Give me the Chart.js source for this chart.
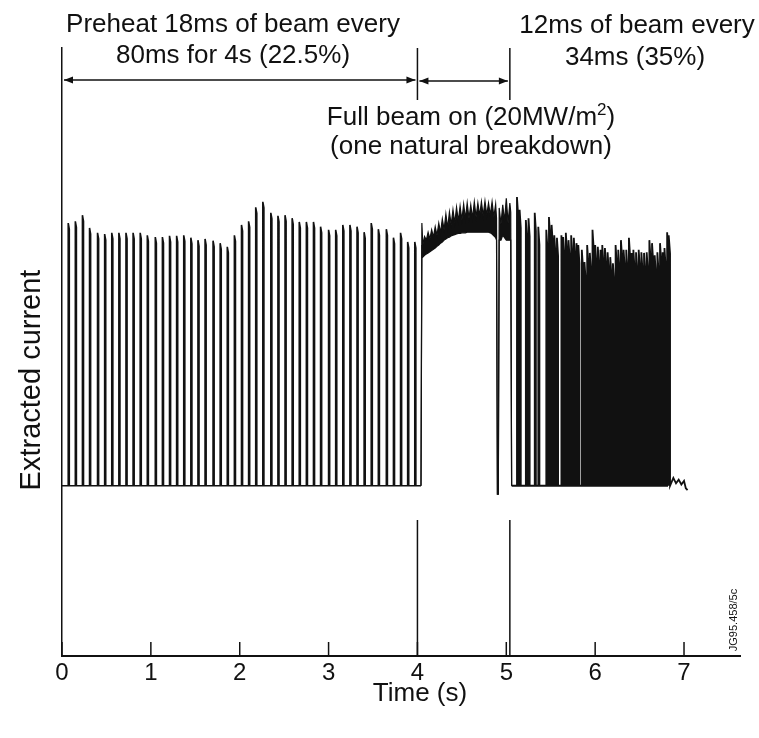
<!DOCTYPE html>
<html>
<head>
<meta charset="utf-8">
<title>Extracted current vs time</title>
<script src="https://cdn.jsdelivr.net/npm/chart.js@4/dist/chart.umd.min.js"></script>
<style>
  html, body { margin: 0; padding: 0; background: #fff; }
  #wrap { position: relative; width: 759px; height: 738px; }
</style>
</head>
<body>
<div id="wrap"><canvas id="chart" width="759" height="738"></canvas></div>
<script>
/* Extracted current trace: preheat pulses, full beam, then 34 ms pulsing */

// --- data (arbitrary current units, 0..100) ---
var xTicks = [0, 1, 2, 3, 4, 5, 6, 7];
var xTickLabels = ['0', '1', '2', '3', '4', '5', '6', '7'];

var BASE = 28.0;                 // baseline level between pulses

// preheat: 18 ms of beam every 80 ms
var preheatTimes = [0.07, 0.15, 0.23, 0.31, 0.40, 0.48, 0.56, 0.64, 0.72, 0.80,
  0.88, 0.96, 1.05, 1.13, 1.21, 1.29, 1.37, 1.45, 1.53, 1.61,
  1.70, 1.78, 1.86, 1.94, 2.02, 2.10, 2.18, 2.26, 2.35, 2.43,
  2.51, 2.59, 2.67, 2.75, 2.83, 2.91, 3.00, 3.08, 3.16, 3.24,
  3.32, 3.40, 3.48, 3.56, 3.65, 3.73, 3.81, 3.89, 3.97];
var preheatPeaks = [71.2, 71.5, 72.5, 70.4, 69.6, 69.4, 69.6, 69.6, 69.6, 69.6,
  69.6, 69.2, 68.9, 68.9, 69.1, 69.1, 69.2, 68.8, 68.4, 68.6,
  68.3, 67.9, 67.3, 69.2, 70.9, 71.5, 73.8, 74.7, 72.9, 72.4,
  72.5, 72.0, 71.4, 71.4, 71.4, 70.6, 70.1, 70.1, 70.9, 70.9,
  70.6, 69.7, 71.2, 70.2, 70.2, 68.8, 69.6, 68.1, 68.1];

// full beam on (one natural breakdown near 4.9 s): noisy band, upper and lower edge
var fullBeamTimes = [4.04, 4.05, 4.06, 4.08, 4.10, 4.12, 4.14, 4.16, 4.18, 4.20,
  4.22, 4.24, 4.26, 4.28, 4.30, 4.32, 4.34, 4.36, 4.38, 4.40,
  4.42, 4.44, 4.46, 4.48, 4.50, 4.52, 4.54, 4.56, 4.58, 4.60,
  4.62, 4.64, 4.66, 4.68, 4.70, 4.72, 4.74, 4.76, 4.78, 4.80,
  4.82, 4.84, 4.86, 4.88, 4.89, 4.90, 4.91, 4.92, 4.94, 4.96,
  4.98, 5.00, 5.02, 5.04, 5.05, 5.06];
var fullBeamUpper = [28.0, 71.2, 67.6, 69.0, 68.4, 69.7, 68.6, 70.1, 68.9, 70.6,
  69.2, 71.2, 69.6, 71.9, 70.1, 72.7, 70.4, 73.0, 70.9, 73.4,
  71.2, 73.8, 71.5, 74.0, 71.7, 74.3, 71.9, 74.5, 72.0, 74.2,
  72.0, 74.7, 72.2, 74.5, 72.4, 74.7, 72.4, 74.8, 72.5, 74.5,
  72.5, 74.7, 72.2, 74.3, 72.0, 26.6, 26.6, 73.7, 71.0, 74.2,
  71.5, 75.3, 71.2, 74.5, 73.0, 28.0];
var fullBeamLower = [28.0, 67.6, 65.6, 65.9, 66.1, 66.3, 66.5, 66.7, 66.9, 67.1,
  67.4, 67.6, 67.9, 68.1, 68.4, 68.6, 68.8, 68.9, 69.1, 69.2,
  69.3, 69.4, 69.5, 69.5, 69.6, 69.6, 69.6, 69.7, 69.7, 69.7,
  69.7, 69.7, 69.7, 69.7, 69.7, 69.7, 69.7, 69.7, 69.7, 69.7,
  69.6, 69.4, 69.1, 68.8, 68.4, 26.6, 26.6, 68.4, 68.4, 69.2,
  68.8, 68.4, 68.4, 68.4, 68.4, 28.0];

// 12 ms of beam every 34 ms
var burstTimes = [5.12, 5.15, 5.22, 5.25, 5.32, 5.36, 5.45, 5.48, 5.51, 5.54,
  5.57, 5.62, 5.64, 5.67, 5.70, 5.73, 5.76, 5.79, 5.81, 5.85,
  5.88, 5.91, 5.94, 5.97, 6.00, 6.03, 6.06, 6.08, 6.11, 6.14,
  6.17, 6.20, 6.23, 6.26, 6.29, 6.32, 6.35, 6.38, 6.41, 6.43,
  6.46, 6.49, 6.52, 6.55, 6.58, 6.61, 6.64, 6.67, 6.70, 6.73,
  6.76, 6.78, 6.81, 6.83];
var burstPeaks = [75.5, 73.4, 71.7, 72.0, 72.9, 70.6, 70.1, 72.2, 70.9, 69.2,
  68.8, 69.2, 68.9, 69.6, 68.4, 69.2, 68.8, 67.9, 67.6, 66.8,
  64.8, 67.6, 66.3, 70.1, 67.6, 67.3, 66.8, 67.6, 67.1, 66.4,
  65.6, 64.6, 67.6, 66.8, 68.4, 66.8, 66.8, 68.8, 66.3, 66.8,
  66.4, 66.8, 66.4, 66.3, 66.4, 68.4, 67.9, 65.9, 66.4, 67.9,
  66.4, 67.1, 69.7, 69.2];

// noisy tail after the last pulse
var tailTimes = [6.86, 6.88, 6.91, 6.94, 6.97, 7.00, 7.02, 7.04];
var tailValues = [28.6, 29.3, 28.4, 29.0, 28.2, 28.8, 27.6, 27.3];

// phase markers (s)
var markerTimes = [4.0, 5.04];
var PREHEAT_WIDTH = 0.012;
var BURST_WIDTH = 0.013;
var PULSE_DROOP = 3.0;           // top of a pulse sags slightly before it switches off

var INK = '#111';
var FONT = '"Liberation Sans", Arial, Helvetica, sans-serif';

// --- build traces ---
function pulseTrace(times, peaks, width, droop, start) {
  var pts = start ? [start] : [];
  times.forEach(function (t, i) {
    pts.push({ x: t, y: BASE });
    pts.push({ x: t, y: peaks[i] });
    pts.push({ x: t + width, y: peaks[i] - droop });
    pts.push({ x: t + width, y: BASE });
  });
  return pts;
}

var preheatTrace = pulseTrace(preheatTimes, preheatPeaks, PREHEAT_WIDTH, 1.0, { x: 0, y: BASE });
preheatTrace.push({ x: fullBeamTimes[0], y: BASE });

var upperTrace = fullBeamTimes.map(function (t, i) { return { x: t, y: fullBeamUpper[i] }; });
var lowerTrace = fullBeamTimes.map(function (t, i) { return { x: t, y: fullBeamLower[i] }; });

var burstTrace = pulseTrace(burstTimes, burstPeaks, BURST_WIDTH, PULSE_DROOP, { x: fullBeamTimes[fullBeamTimes.length - 1], y: BASE });
tailTimes.forEach(function (t, i) { burstTrace.push({ x: t, y: tailValues[i] }); });

function line(ctx, x1, y1, x2, y2) {
  ctx.beginPath(); ctx.moveTo(x1, y1); ctx.lineTo(x2, y2); ctx.stroke();
}

function arrowHead(ctx, x, y, dir) {
  ctx.beginPath();
  ctx.moveTo(x, y);
  ctx.lineTo(x - dir * 9, y - 3.5);
  ctx.lineTo(x - dir * 9, y + 3.5);
  ctx.closePath();
  ctx.fill();
}

var annotations = {
  id: 'annotations',
  afterDraw: function (chart) {
    var ctx = chart.ctx, xs = chart.scales.x, area = chart.chartArea;
    ctx.save();
    ctx.strokeStyle = INK;
    ctx.fillStyle = INK;

    // ticks pointing up into the plot
    ctx.lineWidth = 1.5;
    xTicks.forEach(function (v) {
      var px = xs.getPixelForValue(v);
      line(ctx, px, area.bottom, px, area.bottom - 14);
    });

    // phase markers: short lines at top and bottom
    markerTimes.forEach(function (t) {
      var px = xs.getPixelForValue(t);
      line(ctx, px, area.top, px, 100);
      line(ctx, px, 520, px, area.bottom);
    });

    // double arrows
    var x0 = xs.getPixelForValue(0), x4 = xs.getPixelForValue(markerTimes[0]), x5 = xs.getPixelForValue(markerTimes[1]);
    ctx.lineWidth = 1.3;
    line(ctx, x0 + 2, 80, x4 - 2, 80);
    arrowHead(ctx, x0 + 2, 80, -1);
    arrowHead(ctx, x4 - 2, 80, 1);
    line(ctx, x4 + 2, 81, x5 - 2, 81);
    arrowHead(ctx, x4 + 2, 81, -1);
    arrowHead(ctx, x5 - 2, 81, 1);

    // text
    ctx.textBaseline = 'alphabetic';
    ctx.textAlign = 'center';
    ctx.font = '26px ' + FONT;
    ctx.fillText('Preheat 18ms of beam every', 233, 32);
    ctx.fillText('80ms for 4s (22.5%)', 233, 63);
    ctx.fillText('12ms of beam every', 637, 33);
    ctx.fillText('34ms (35%)', 635, 65);
    ctx.fillText('(one natural breakdown)', 471, 154);

    // line with superscript
    var a = 'Full beam on (20MW/m', sup = '2', b = ')';
    ctx.font = '26px ' + FONT;
    var wa = ctx.measureText(a).width, wb = ctx.measureText(b).width;
    ctx.font = '17px ' + FONT;
    var ws = ctx.measureText(sup).width;
    var sx = 471 - (wa + ws + wb) / 2;
    ctx.textAlign = 'left';
    ctx.font = '26px ' + FONT;
    ctx.fillText(a, sx, 125);
    ctx.font = '17px ' + FONT;
    ctx.fillText(sup, sx + wa, 115);
    ctx.font = '26px ' + FONT;
    ctx.fillText(b, sx + wa + ws, 125);

    // axis titles
    ctx.textAlign = 'center';
    ctx.font = '26px ' + FONT;
    ctx.fillText('Time (s)', 420, 701);
    ctx.save();
    ctx.translate(40, 380);
    ctx.rotate(-Math.PI / 2);
    ctx.font = '29px ' + FONT;
    ctx.fillText('Extracted current', 0, 0);
    ctx.restore();

    // figure reference
    ctx.save();
    ctx.translate(737, 620);
    ctx.rotate(-Math.PI / 2);
    ctx.font = '11px ' + FONT;
    ctx.fillText('JG95.458/5c', 0, 0);
    ctx.restore();

    ctx.restore();
  }
};

var traceStyle = { borderColor: INK, borderWidth: 1.6, pointRadius: 0, tension: 0, fill: false };

new Chart(document.getElementById('chart'), {
  type: 'line',
  data: {
    datasets: [
      Object.assign({ label: 'Preheat', data: preheatTrace }, traceStyle),
      Object.assign({ label: 'Full beam (upper)', data: upperTrace }, traceStyle, { borderWidth: 1.2 }),
      Object.assign({ label: 'Full beam (lower)', data: lowerTrace }, traceStyle, { borderWidth: 1.2, fill: '-1', backgroundColor: INK }),
      Object.assign({ label: '34 ms pulsing', data: burstTrace }, traceStyle, { borderWidth: 1.8 })
    ]
  },
  options: {
    responsive: false,
    animation: false,
    devicePixelRatio: 1,
    layout: { padding: { top: 48, right: 19, left: 0, bottom: 0 } },
    plugins: { legend: { display: false }, tooltip: { enabled: false } },
    scales: {
      x: {
        type: 'linear',
        min: 0,
        max: 7.63,
        grid: { display: false, drawTicks: false },
        border: { display: true, color: INK, width: 2 },
        afterBuildTicks: function (scale) {
          scale.ticks = xTicks.map(function (v) { return { value: v }; });
        },
        afterFit: function (scale) { scale.height = 82; },
        ticks: {
          autoSkip: false,
          maxRotation: 0,
          padding: 3,
          color: INK,
          font: { size: 24, family: FONT },
          callback: function (v) { return xTickLabels[xTicks.indexOf(v)]; }
        }
      },
      y: {
        min: 0,
        max: 100,
        grid: { display: false, drawTicks: false },
        border: { display: true, color: INK, width: 1.5 },
        ticks: { display: false },
        afterFit: function (scale) { scale.width = 62; }
      }
    }
  },
  plugins: [annotations]
});
</script>
</body>
</html>
